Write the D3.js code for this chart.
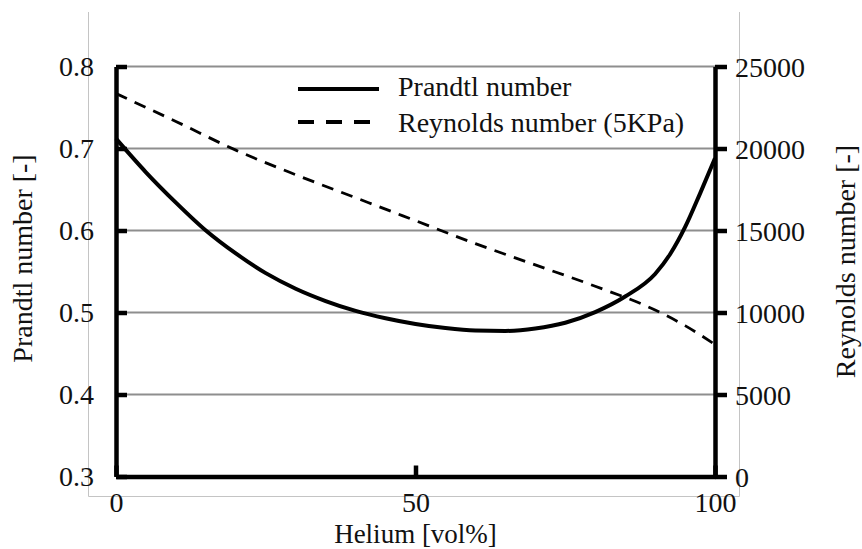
<!DOCTYPE html>
<html>
<head>
<meta charset="utf-8">
<script src="https://cdn.jsdelivr.net/npm/d3@7"></script>
<style>
  html, body { margin: 0; padding: 0; background: #fff; }
  svg { display: block; }
</style>
</head>
<body>
<svg id="chart" width="862" height="549"></svg>
<script>
// Helium fraction [vol%]
const helium = [0, 5, 10, 15, 20, 25, 30, 35, 40, 45, 50, 55, 60, 65, 70, 75, 80, 85, 90, 92.5, 95, 97.5, 100];
// Prandtl number [-]
const prandtl = [0.712, 0.671, 0.634, 0.600, 0.572, 0.548, 0.529, 0.514, 0.502, 0.493, 0.486, 0.481, 0.478, 0.4775, 0.4805, 0.4875, 0.5005, 0.5195, 0.547, 0.571, 0.604, 0.645, 0.688];

// Reynolds number at 5 kPa
const heliumRe = [0, 10, 20, 30, 40, 50, 60, 70, 80, 90, 95, 100];
const reynolds = [23350, 21650, 19900, 18400, 17000, 15600, 14200, 12900, 11600, 10150, 9200, 8050];

// Axis ticks
const xTicks = [0, 50, 100];
const prTicks = [0.3, 0.4, 0.5, 0.6, 0.7, 0.8];
const reTicks = [0, 5000, 10000, 15000, 20000, 25000];

// Legend entries
const legendLabels = ["Prandtl number", "Reynolds number (5KPa)"];
const axisTitles = { x: "Helium [vol%]", left: "Prandtl number [-]", right: "Reynolds number [-]" };

const svg = d3.select("#chart");
const FONT = 28;
const FAMILY = "'Liberation Serif', 'Times New Roman', Times, serif";

const x = d3.scaleLinear().domain([0, 100]).range([116, 715]);
const yPr = d3.scaleLinear().domain([0.3, 0.8]).range([476.5, 66.5]);
const yRe = d3.scaleLinear().domain([0, 25000]).range([476.5, 66.5]);

function serif(sel, size = FONT) {
  return sel.style("font-family", FAMILY).style("font-size", size + "px").style("fill", "#111");
}

// light outer frame
svg.append("path")
  .attr("d", "M88.5,12V496.5H739.5V12")
  .attr("fill", "none")
  .attr("stroke", "#c4c4c4")
  .attr("stroke-width", 1);

// horizontal gridlines
svg.append("g")
  .selectAll("line")
  .data(prTicks.filter(d => d > 0.3))
  .join("line")
  .attr("x1", x(0)).attr("x2", x(100))
  .attr("y1", d => yPr(d)).attr("y2", d => yPr(d))
  .attr("stroke", "#8e8e8e")
  .attr("stroke-width", 1.8);

// data lines
const prLine = d3.line()
  .x((d, i) => x(helium[i]))
  .y(d => yPr(d))
  .curve(d3.curveMonotoneX);
const reLine = d3.line()
  .x((d, i) => x(heliumRe[i]))
  .y(d => yRe(d))
  .curve(d3.curveMonotoneX);

svg.append("path")
  .attr("d", reLine(reynolds))
  .attr("fill", "none")
  .attr("stroke", "#000")
  .attr("stroke-width", 2.8)
  .attr("stroke-dasharray", "12,8.5");

svg.append("path")
  .attr("d", prLine(prandtl))
  .attr("fill", "none")
  .attr("stroke", "#000")
  .attr("stroke-width", 4)
  .attr("stroke-linejoin", "round");

function styleAxis(g) {
  g.attr("font-family", null).attr("font-size", null);
  g.select(".domain").attr("stroke", "#000").attr("stroke-width", 4.5);
  g.selectAll(".tick line").attr("stroke", "#000").attr("stroke-width", 4.5);
  g.selectAll(".tick text").call(serif);
}

// left axis (Prandtl), ticks inward
svg.append("g")
  .attr("transform", `translate(${x(0)},0)`)
  .call(d3.axisLeft(yPr).tickValues(prTicks).tickFormat(d3.format(".1f"))
    .tickSizeInner(-11).tickSizeOuter(0).tickPadding(22))
  .call(styleAxis)
  .call(g => g.selectAll(".tick text").attr("dy", "0.32em"));

// right axis (Reynolds), ticks outward
svg.append("g")
  .attr("transform", `translate(${x(100)},0)`)
  .call(d3.axisRight(yRe).tickValues(reTicks).tickFormat(d3.format("d"))
    .tickSizeInner(12).tickSizeOuter(0).tickPadding(8))
  .call(styleAxis)
  .call(g => g.selectAll(".tick text").attr("dy", "0.37em"));

// bottom axis, ticks pointing up
svg.append("g")
  .attr("transform", `translate(0,${yPr(0.3)})`)
  .call(d3.axisBottom(x).tickValues(xTicks).tickFormat(d3.format("d"))
    .tickSizeInner(-11).tickSizeOuter(0).tickPadding(16))
  .call(styleAxis);

// axis titles
svg.append("text")
  .attr("x", 415.5).attr("y", 543)
  .attr("text-anchor", "middle")
  .call(serif, 27)
  .text(axisTitles.x);

svg.append("text")
  .attr("transform", "translate(32,258.5) rotate(-90)")
  .attr("text-anchor", "middle")
  .call(serif)
  .text(axisTitles.left);

svg.append("text")
  .attr("transform", "translate(855,261.5) rotate(-90)")
  .attr("text-anchor", "middle")
  .call(serif)
  .text(axisTitles.right);

// legend
const legend = svg.append("g");
legend.append("line")
  .attr("x1", 298).attr("x2", 379).attr("y1", 89).attr("y2", 89)
  .attr("stroke", "#000").attr("stroke-width", 4);
legend.append("line")
  .attr("x1", 298).attr("x2", 370).attr("y1", 122).attr("y2", 122)
  .attr("stroke", "#000").attr("stroke-width", 4)
  .attr("stroke-dasharray", "16,12");
legend.selectAll("text.lg")
  .data(legendLabels)
  .join("text")
  .attr("class", "lg")
  .attr("x", 398)
  .attr("y", (d, i) => 96 + i * 36)
  .call(serif)
  .text(d => d);
</script>
</body>
</html>
